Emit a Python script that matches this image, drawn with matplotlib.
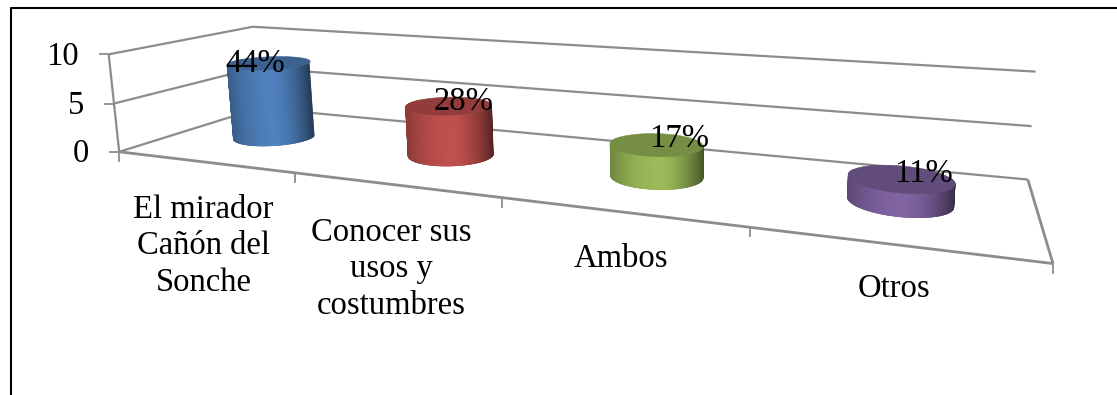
import numpy as np
import matplotlib
matplotlib.use("Agg")
import matplotlib.pyplot as plt
from matplotlib.colors import to_rgb

categorias = ["El mirador\nCañón del\nSonche", "Conocer sus\nusos y\ncostumbres", "Ambos", "Otros"]
valores = [8, 5, 3, 2]
etiquetas = ["44%", "28%", "17%", "11%"]
colores = ["#4f81bd", "#c0504d", "#9bbb59", "#8064a2"]
ticks_y = [0, 5, 10]

# layout of the texts, in pixels
cat_y = [246, 269, 259, 289]
cat_dx = [0, -3, 1, 0]
et_dx = [-14, 15, 23, 23]
et_dy = [1, -4, -6, -5]

# fit a camera matrix: (categoria, fondo, valor) -> pixel
pts3d = np.array([[0, 0, 0], [0, 0, 5], [0, 0, 10], [0, 1, 10], [4, 0, 0], [4, 1, 0], [4, 1, 10], [4, 1, 5],
                  [1, 0, 0], [2, 0, 0], [3, 0, 0], [0, 1, 0]], dtype=float)
pts2d = np.array([[120, 152], [115, 103], [107, 54], [254, 27], [1053, 263], [1027, 179], [1034, 72], [1034, 126],
                  [295, 173], [502, 198], [750, 228], [258, 108]], dtype=float)
filas = []
for (a, b, c), (x, y) in zip(pts3d / [1000, 1000, 1000], pts2d / 1000):
    filas.append([a, b, c, 1, 0, 0, 0, 0, -x * a, -x * b, -x * c, -x])
    filas.append([0, 0, 0, 0, a, b, c, 1, -y * a, -y * b, -y * c, -y])
cam = np.linalg.svd(np.array(filas))[2][-1].reshape(3, 4)


def proy(u, d, v):
    u, d, v = np.broadcast_arrays(np.asarray(u, float), np.asarray(d, float), np.asarray(v, float))
    p = cam @ np.array([u / 1000, d / 1000, v / 1000, np.ones_like(u)], dtype=float)
    return p[0] / p[2] * 1000, p[1] / p[2] * 1000


def linea(ax, a, b, lw=1.5):
    x, y = proy([a[0], b[0]], [a[1], b[1]], [a[2], b[2]])
    ax.plot(x, y, color="#8c8c8c", lw=lw, solid_capstyle="butt", zorder=1)


plt.rcParams["font.family"] = ["Liberation Serif", "DejaVu Serif"]
fig = plt.figure(figsize=(11.17, 3.95), dpi=100)
ax = fig.add_axes([0, 0, 1, 1])
ax.set_xlim(0, 1117)
ax.set_ylim(395, 0)
ax.axis("off")

# chart border
ax.plot([10.5, 10.5, 1117], [395, 7.5, 7.5], color="black", lw=1.5, zorder=1)

# walls and gridlines
for t in ticks_y:
    linea(ax, (0, 0, t), (0, 1, t), 1.6)
    linea(ax, (0, 1, t), (4, 1, t), 1.6)
    x, y = proy(0, 0, t)
    ax.plot([x - 9, x], [y, y], color="#8c8c8c", lw=1.3, zorder=1)
    ax.text(x - 30, y + 2, str(t), ha="right", va="center", fontsize=23.5)
linea(ax, (0, 0, 0), (0, 0, 10), 1.6)
linea(ax, (0, 0, 0), (4, 0, 0), 2)
linea(ax, (4, 0, 0), (4, 1, 0), 2)
for i in range(5):
    x, y = proy(i, 0, 0)
    ax.plot([x, x], [y, y + 9], color="#8c8c8c", lw=1.3, zorder=1)

# cylinders
ru, rd = 0.2, 0.19
for i, (val, col) in enumerate(zip(valores, colores)):
    base = np.array(to_rgb(col))
    cu = i + 0.5
    th = np.linspace(np.pi - 0.35, 2 * np.pi + 0.35, 90)
    th = th[np.argsort(-np.abs(th - 1.5 * np.pi))]
    xb, yb = proy(cu + ru * np.cos(th), 0.5 + rd * np.sin(th), 0)
    xc = (xb.min() + xb.max()) / 2
    hw = (xb.max() - xb.min()) / 2
    paso = 0.04
    for t in th:
        uu = cu + ru * np.cos([t - paso, t + paso])
        dd = 0.5 + rd * np.sin([t - paso, t + paso])
        x0, y0 = proy(uu, dd, 0)
        x1, y1 = proy(uu, dd, val)
        s = np.clip((x0.mean() - xc) / hw, -1, 1)
        luz = 1 - (0.28 if s < 0 else 0.55) * abs(s) ** 1.8
        c = np.clip(base * luz, 0, 1)
        ax.fill([x0[0], x0[1], x1[1], x1[0]], [y0[0], y0[1], y1[1], y1[0]], color=c, lw=0.4, zorder=2 + i)
    tt = np.linspace(0, 2 * np.pi, 120)
    xt, yt = proy(cu + ru * np.cos(tt), 0.5 + rd * np.sin(tt), val)
    ax.fill(xt, yt, color=base * 0.76, lw=0.4, zorder=2 + i)
    x, y = proy(cu, 0.5, val)
    ax.text(x + et_dx[i], y + et_dy[i], etiquetas[i], ha="center", va="center", fontsize=23.5, zorder=10)
    x, y = proy(cu, 0, 0)
    ax.text(x + cat_dx[i], cat_y[i], categorias[i], ha="center", va="center", fontsize=23.5, linespacing=1.25, zorder=10)

fig.savefig("out.png", dpi=100)
